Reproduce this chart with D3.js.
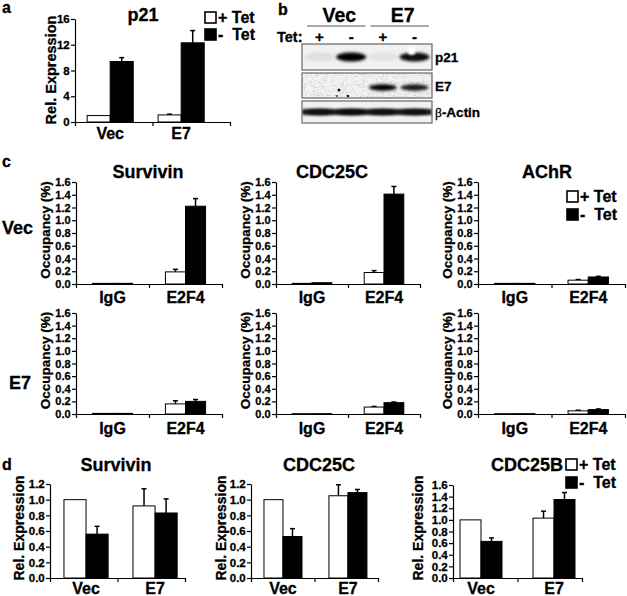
<!DOCTYPE html>
<html><head><meta charset="utf-8">
<script src="https://cdn.jsdelivr.net/npm/d3@7"></script>
<style>
html,body{margin:0;padding:0;background:#fff;}
svg text{font-family:"Liberation Sans",Arial,sans-serif;font-weight:bold;fill:#000;stroke:#000;stroke-width:0.3px;}
</style></head>
<body><svg id="fig" width="627" height="596"></svg>
<script>
// ---------- DATA ----------
const groups = ["Vec", "E7"];
const chipCats = ["IgG", "E2F4"];
const seriesKeys = ["+ Tet", "- Tet"];

// panel a: p21 expression
const p21Plus = [1.0, 1.1];
const p21PlusErr = [0, 0.12];
const p21Minus = [9.4, 12.3];
const p21MinusErr = [0.6, 1.9];
const ticksA = [0, 4, 8, 12, 16];

// panel b: western blot (relative band intensity per lane)
const blotLanes = ["+", "-", "+", "-"];
const blotGroups = ["Vec", "E7"];
const p21Band = [0.07, 1.0, 0.05, 0.95];
const e7Band = [0, 0, 1.0, 0.9];
const actinBand = [0.85, 0.9, 0.85, 0.85];

// panel c: ChIP occupancy (%)
const survVecPlus = [0.01, 0.19], survVecPlusErr = [0, 0.04];
const survVecMinus = [0.01, 1.22], survVecMinusErr = [0, 0.12];
const cdcVecPlus = [0.01, 0.18], cdcVecPlusErr = [0, 0.03];
const cdcVecMinus = [0.02, 1.41], cdcVecMinusErr = [0, 0.12];
const achrVecPlus = [0.01, 0.06], achrVecPlusErr = [0, 0.01];
const achrVecMinus = [0.01, 0.11], achrVecMinusErr = [0, 0.01];
const survE7Plus = [0.01, 0.16], survE7PlusErr = [0, 0.05];
const survE7Minus = [0.01, 0.20], survE7MinusErr = [0, 0.03];
const cdcE7Plus = [0.005, 0.11], cdcE7PlusErr = [0, 0.01];
const cdcE7Minus = [0.005, 0.18], cdcE7MinusErr = [0, 0.01];
const achrE7Plus = [0.005, 0.05], achrE7PlusErr = [0, 0.01];
const achrE7Minus = [0.005, 0.07], achrE7MinusErr = [0, 0.01];
const ticksC = [0, 0.2, 0.4, 0.6, 0.8, 1.0, 1.2, 1.4, 1.6];

// panel d: relative expression
const survDPlus = [1.0, 0.92], survDPlusErr = [0, 0.22];
const survDMinus = [0.56, 0.83], survDMinusErr = [0.10, 0.18];
const cdc25cDPlus = [1.0, 1.05], cdc25cDPlusErr = [0, 0.14];
const cdc25cDMinus = [0.53, 1.09], cdc25cDMinusErr = [0.10, 0.04];
const cdc25bDPlus = [1.0, 1.03], cdc25bDPlusErr = [0, 0.12];
const cdc25bDMinus = [0.63, 1.35], cdc25bDMinusErr = [0.06, 0.12];
const ticksD12 = [0, 0.2, 0.4, 0.6, 0.8, 1.0, 1.2];
const ticksD16 = [0, 0.2, 0.4, 0.6, 0.8, 1.0, 1.2, 1.4, 1.6];

// ---------- DRAWING ----------
const svg = d3.select("#fig");
const defs = svg.append("defs");

function txt(x, y, s, size, anchor) {
  return svg.append("text").attr("x", x).attr("y", y).attr("font-size", size)
    .attr("text-anchor", anchor || "start").text(s);
}

function barChart(c) {
  const g = svg.append("g");
  const x = d3.scaleBand().domain(c.cats).range([c.x0, c.x1])
    .paddingInner(c.pi).paddingOuter(c.po).align(c.align);
  const xs = d3.scaleBand().domain(seriesKeys).range([0, x.bandwidth()]);
  const y = d3.scaleLinear().domain([0, c.ymax]).range([c.yb, c.yt]);
  const series = [
    {key: seriesKeys[0], vals: c.plus, err: c.plusErr, fill: "#fff"},
    {key: seriesKeys[1], vals: c.minus, err: c.minusErr, fill: "#000"}
  ];
  series.forEach(s => {
    c.cats.forEach((cat, i) => {
      const v = s.vals[i], e = s.err[i];
      const bx = x(cat) + xs(s.key), bw = xs.bandwidth();
      const cx = bx + bw / 2;
      if (e > 0) {
        g.append("line").attr("x1", cx).attr("x2", cx).attr("y1", y(v)).attr("y2", y(v + e))
          .attr("stroke", "#000").attr("stroke-width", 1.5);
        g.append("line").attr("x1", cx - 2.5).attr("x2", cx + 2.5).attr("y1", y(v + e)).attr("y2", y(v + e))
          .attr("stroke", "#000").attr("stroke-width", 1.5);
      }
      g.append("rect").attr("x", bx).attr("y", y(v)).attr("width", bw)
        .attr("height", Math.max(0, c.yb - y(v)))
        .attr("fill", s.fill).attr("stroke", "#000").attr("stroke-width", 1);
    });
  });
  const ya = g.append("g").attr("transform", `translate(${c.x0},0)`)
    .call(d3.axisLeft(y).tickValues(c.ticks).tickFormat(c.fmt).tickSize(4).tickSizeOuter(0));
  ya.selectAll("text").attr("font-size", c.tickFs).attr("font-family", null).attr("dx", "0.15em");
  ya.attr("font-family", null);
  ya.selectAll("path,line").attr("stroke-width", 1.2);
  const xl = d3.scaleLinear().domain([0, 2]).range([c.x0, c.x1]);
  const xa = g.append("g").attr("transform", `translate(0,${c.yb})`)
    .call(d3.axisBottom(xl).tickValues([0, 1, 2]).tickFormat("").tickSize(4).tickSizeOuter(0));
  xa.selectAll("path,line").attr("stroke-width", 1.2);
  c.cats.forEach(cat => {
    g.append("text").attr("x", x(cat) + x.bandwidth() / 2).attr("y", c.labY)
      .attr("text-anchor", "middle").attr("font-size", c.catFs).text(cat);
  });
  if (c.ylabel) {
    g.append("text").attr("transform", `translate(${c.ylx},${c.yly}) rotate(-90)`)
      .attr("text-anchor", "middle").attr("font-size", c.ylFs).text(c.ylabel);
  }
  if (c.title) {
    g.append("text").attr("x", c.tx).attr("y", c.ty).attr("text-anchor", "middle")
      .attr("font-size", c.titleFs).text(c.title);
  }
}

function legend(x, y1, y2, fs) {
  [[y1, "#fff", "+ Tet"], [y2, "#000", "-  Tet"]].forEach(([yy, f, t]) => {
    svg.append("rect").attr("x", x).attr("y", yy - 11).attr("width", 11).attr("height", 11)
      .attr("fill", f).attr("stroke", "#000").attr("stroke-width", 1.6);
    svg.append("text").attr("x", x + 13).attr("y", yy).attr("font-size", fs)
      .attr("xml:space", "preserve").style("white-space", "pre").text(t);
  });
}

// Panel letters
txt(2, 13, "a", 16);
txt(278, 15, "b", 16);
txt(2, 167, "c", 16);
txt(2, 470, "d", 16);

// ---------- Panel a ----------
const fmtInt = d3.format("d"), fmt1 = d3.format(".1f");
barChart({cats: groups, x0: 75, x1: 230, pi: 0.35, po: 0.267, align: 0.32,
  yb: 122, yt: 19, ymax: 16, ticks: ticksA, fmt: fmtInt, tickFs: 11.5,
  plus: p21Plus, plusErr: p21PlusErr, minus: p21Minus, minusErr: p21MinusErr,
  labY: 139, catFs: 16, ylabel: "Rel. Expression", ylx: 56, yly: 70, ylFs: 14.5,
  title: "p21", tx: 143, ty: 21, titleFs: 18});
legend(205, 23, 40, 16);

// ---------- Panel b: blot ----------
{
  const bx0 = 302, bx1 = 432;
  const lane = d3.scaleBand().domain(d3.range(blotLanes.length)).range([bx0, bx1]).padding(0.1);
  const lc = i => lane(i) + lane.bandwidth() / 2;
  defs.append("filter").attr("id", "blur2").attr("x", "-50%").attr("y", "-100%").attr("width", "200%").attr("height", "300%")
    .append("feGaussianBlur").attr("stdDeviation", 1.6);
  defs.append("filter").attr("id", "blur1").attr("x", "-50%").attr("y", "-100%").attr("width", "200%").attr("height", "300%")
    .append("feGaussianBlur").attr("stdDeviation", 1.0);
  const sp = defs.append("filter").attr("id", "speckle").attr("x", 0).attr("y", 0).attr("width", "100%").attr("height", "100%");
  sp.append("feTurbulence").attr("type", "fractalNoise").attr("baseFrequency", 0.9).attr("numOctaves", 2).attr("seed", 7);
  sp.append("feColorMatrix").attr("type", "matrix").attr("values", "0 0 0 0 0  0 0 0 0 0  0 0 0 0 0  -3.0 0 0 0 1.3");

  // group headers
  blotGroups.forEach((gname, gi) => {
    const a = lane(gi * 2), b = lane(gi * 2 + 1) + lane.bandwidth();
    svg.append("line").attr("x1", a + 2).attr("x2", b).attr("y1", 26).attr("y2", 26).attr("stroke", "#555").attr("stroke-width", 1);
    txt((a + b) / 2 + 4, 22, gname, 19.5, "middle");
  });
  txt(277, 42, "Tet:", 14.5);
  blotLanes.forEach((s, i) => txt(lc(i), 42, s, 15, "middle"));

  const boxes = [
    {y: 44, h: 26, label: "p21", vals: p21Band, rx: 15, ry: 4.5, dy: 0},
    {y: 73, h: 25, label: "E7", vals: e7Band, rx: 14, ry: 3.2, dy: 2},
    {y: 101, h: 22, label: "β-Actin", vals: actinBand, rx: 17, ry: 3.2, dy: 0}
  ];
  boxes.forEach((bxs, bi) => {
    const clipId = "clip" + bi;
    defs.append("clipPath").attr("id", clipId).append("rect")
      .attr("x", bx0).attr("y", bxs.y).attr("width", bx1 - bx0).attr("height", bxs.h);
    const g = svg.append("g").attr("clip-path", `url(#${clipId})`);
    g.append("rect").attr("x", bx0).attr("y", bxs.y).attr("width", bx1 - bx0).attr("height", bxs.h).attr("fill", "#f1f1f1");
    if (bi === 1) {
      g.append("rect").attr("x", bx0).attr("y", bxs.y).attr("width", bx1 - bx0).attr("height", bxs.h)
        .attr("fill", "#000").attr("filter", "url(#speckle)").attr("opacity", 0.32);
      g.append("circle").attr("cx", 339).attr("cy", 90).attr("r", 1.5).attr("fill", "#111");
      g.append("circle").attr("cx", 348).attr("cy", 96).attr("r", 1.3).attr("fill", "#222");
      g.append("circle").attr("cx", 337).attr("cy", 96).attr("r", 1).attr("fill", "#444");
    }
    const cy = bxs.y + bxs.h / 2 + bxs.dy;
    if (bi === 2) {
      g.append("rect").attr("x", bx0).attr("y", cy - 3).attr("width", bx1 - bx0).attr("height", 6)
        .attr("fill", "#222").attr("opacity", 0.8).attr("filter", "url(#blur1)");
    }
    bxs.vals.forEach((v, i) => {
      if (v <= 0) return;
      g.append("ellipse").attr("cx", lc(i)).attr("cy", cy).attr("rx", bxs.rx).attr("ry", bxs.ry)
        .attr("fill", "#000").attr("opacity", v).attr("filter", "url(#blur2)");
    });
    if (bi === 0) {
      g.append("circle").attr("cx", lc(3) - 3).attr("cy", 51).attr("r", 4).attr("fill", "#fff").attr("filter", "url(#blur1)");
    }
    svg.append("rect").attr("x", bx0).attr("y", bxs.y).attr("width", bx1 - bx0).attr("height", bxs.h)
      .attr("fill", "none").attr("stroke", "#666").attr("stroke-width", 1.2);
    const t = svg.append("text").attr("x", 435).attr("y", bxs.y + bxs.h / 2 + 5).attr("font-size", 13.5);
    if (bxs.label.startsWith("β")) {
      t.append("tspan").attr("font-family", "'Liberation Serif',serif").attr("font-weight", "normal").text("β");
      t.append("tspan").text(bxs.label.slice(1));
    } else t.text(bxs.label);
  });
}

// ---------- Panel c ----------
const cCommon = {cats: chipCats, pi: 0.45, po: 0.225, align: 0.5, ymax: 1.6, ticks: ticksC,
  fmt: fmt1, tickFs: 11, catFs: 16, ylabel: "Occupancy (%)", ylFs: 13.5, titleFs: 18};
const cCols = [
  {x0: 76, x1: 222, tx: 148, title: "Survivin"},
  {x0: 276, x1: 420, tx: 332, title: "CDC25C"},
  {x0: 478, x1: 625, tx: 547, title: "AChR"}
];
const cRows = [
  {yb: 284, yt: 182, labY: 303,
    data: [[survVecPlus, survVecPlusErr, survVecMinus, survVecMinusErr],
           [cdcVecPlus, cdcVecPlusErr, cdcVecMinus, cdcVecMinusErr],
           [achrVecPlus, achrVecPlusErr, achrVecMinus, achrVecMinusErr]]},
  {yb: 414, yt: 313, labY: 434,
    data: [[survE7Plus, survE7PlusErr, survE7Minus, survE7MinusErr],
           [cdcE7Plus, cdcE7PlusErr, cdcE7Minus, cdcE7MinusErr],
           [achrE7Plus, achrE7PlusErr, achrE7Minus, achrE7MinusErr]]}
];
cRows.forEach((r, ri) => {
  cCols.forEach((col, ci) => {
    const d = r.data[ci];
    barChart(Object.assign({}, cCommon, {
      x0: col.x0, x1: col.x1, yb: r.yb, yt: r.yt, labY: r.labY,
      plus: d[0], plusErr: d[1], minus: d[2], minusErr: d[3],
      ylx: col.x0 - 26, yly: (r.yb + r.yt) / 2 - 3,
      title: ri === 0 ? col.title : null, tx: col.tx, ty: 178}));
  });
});
txt(2, 234, "Vec", 18);
txt(9, 389, "E7", 18);
legend(567, 202, 220, 16);

// ---------- Panel d ----------
const dCommon = {cats: groups, yb: 578, tickFs: 11.5, fmt: fmt1, catFs: 16, labY: 594,
  ylabel: "Rel. Expression", ylFs: 14, titleFs: 18, ty: 471};
barChart(Object.assign({}, dCommon, {x0: 50, x1: 185, pi: 0.36, po: 0.158, align: 0.64,
  yt: 484, ymax: 1.2, ticks: ticksD12, plus: survDPlus, plusErr: survDPlusErr,
  minus: survDMinus, minusErr: survDMinusErr, ylx: 24, yly: 528, title: "Survivin", tx: 116}));
barChart(Object.assign({}, dCommon, {x0: 251, x1: 378, pi: 0.415, po: 0.185, align: 0.54,
  yt: 484, ymax: 1.2, ticks: ticksD12, plus: cdc25cDPlus, plusErr: cdc25cDPlusErr,
  minus: cdc25cDMinus, minusErr: cdc25cDMinusErr, ylx: 226, yly: 528, title: "CDC25C", tx: 319}));
barChart(Object.assign({}, dCommon, {x0: 453, x1: 582, pi: 0.425, po: 0.096, align: 0.5,
  yt: 485, ymax: 1.6, ticks: ticksD16, plus: cdc25bDPlus, plusErr: cdc25bDPlusErr,
  minus: cdc25bDMinus, minusErr: cdc25bDMinusErr, ylx: 423, yly: 528, title: "CDC25B", tx: 527}));
legend(566, 470, 488, 16);
</script></body></html>
